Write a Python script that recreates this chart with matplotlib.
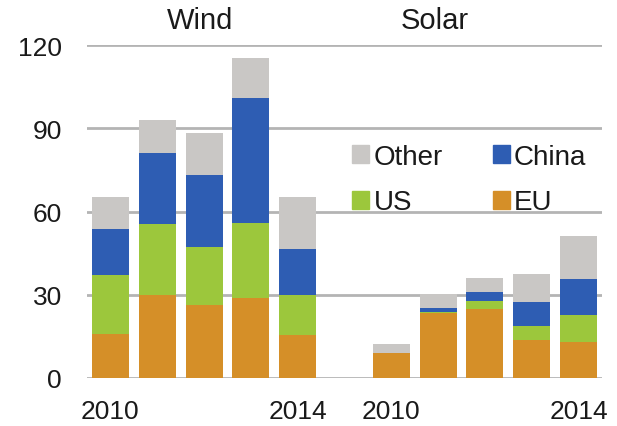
import numpy as np
import matplotlib.pyplot as plt

plt.rcParams['font.family'] = ['Liberation Sans', 'DejaVu Sans']

# Values (GW), years 2010-2014
years = ['2010', '2011', '2012', '2013', '2014']
wind_eu = [16.0, 29.8, 26.4, 28.8, 15.4]
wind_us = [21.0, 25.8, 20.8, 27.2, 14.4]
wind_china = [16.8, 25.5, 25.8, 45.0, 16.6]
wind_other = [11.6, 11.7, 15.4, 14.4, 19.0]
solar_eu = [9.0, 23.5, 24.7, 13.6, 13.0]
solar_us = [0.0, 0.4, 2.9, 5.0, 9.6]
solar_china = [0.0, 1.3, 3.4, 8.8, 13.2]
solar_other = [3.1, 4.9, 5.0, 10.2, 15.4]

c_eu = '#d58f28'
c_us = '#9cc73c'
c_china = '#2e5db3'
c_other = '#c9c7c5'
grid_c = '#b4b4b4'
txt_c = '#1a1a1a'

# wind in slots 0-4, empty slot 5, solar in slots 6-10
x_wind = np.arange(5)
x_solar = np.arange(5) + 6
W = 0.79

fig = plt.figure(figsize=(6.17, 4.27), dpi=100)
ax = fig.add_axes([87 / 617, 1 - 379 / 427, (602 - 87) / 617, (379 - 46) / 427])

for x, eu, us, cn, ot in [(x_wind, wind_eu, wind_us, wind_china, wind_other),
                          (x_solar, solar_eu, solar_us, solar_china, solar_other)]:
    eu = np.array(eu)
    us = np.array(us)
    cn = np.array(cn)
    ot = np.array(ot)
    ax.bar(x, eu, W, color=c_eu, zorder=3)
    ax.bar(x, us, W, bottom=eu, color=c_us, zorder=3)
    ax.bar(x, cn, W, bottom=eu + us, color=c_china, zorder=3)
    ax.bar(x, ot, W, bottom=eu + us + cn, color=c_other, zorder=3)

ax.set_xlim(-0.5, 10.5)
ax.set_ylim(0, 120)
ax.set_yticks([0, 30, 60, 90, 120])
ax.yaxis.grid(True, color=grid_c, linewidth=2, zorder=0)
ax.set_axisbelow(True)
for s in ax.spines.values():
    s.set_visible(False)
ax.set_xticks([0, 4, 6, 10])
ax.set_xticklabels([years[0], years[4], years[0], years[4]])
ax.tick_params(axis='x', length=0, pad=15, labelsize=19, labelcolor=txt_c)
ax.tick_params(axis='y', length=0, pad=18, labelsize=19, labelcolor=txt_c)

tr = ax.get_xaxis_transform()
ax.text(1.92, 1.05, 'Wind', transform=tr, ha='center', va='baseline', fontsize=21, color=txt_c)
ax.text(6.92, 1.05, 'Solar', transform=tr, ha='center', va='baseline', fontsize=21, color=txt_c)

handles = [plt.Rectangle((0, 0), 1, 1, color=c) for c in [c_other, c_us, c_china, c_eu]]
fig.legend(handles, ['Other', 'US', 'China', 'EU'], ncol=2, frameon=False,
           loc='upper left', bbox_to_anchor=(352 / 617, 1 - 145 / 427),
           fontsize=20, handlelength=0.62, handleheight=0.62, handletextpad=0.15,
           columnspacing=1.8, labelspacing=0.7, borderpad=0, borderaxespad=0,
           labelcolor=txt_c)

fig.savefig('out.png', dpi=100)
